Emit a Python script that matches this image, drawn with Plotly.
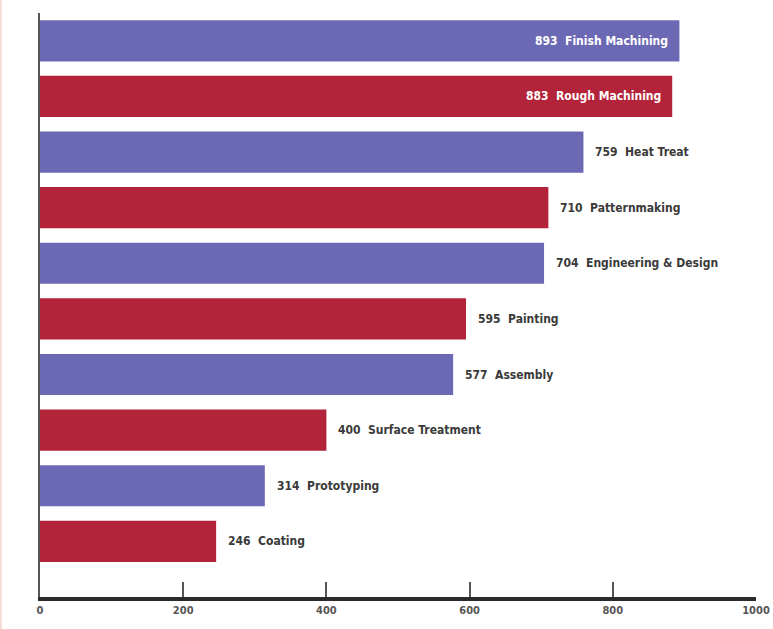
import plotly.graph_objects as go

# Services ranked by count, top to bottom
services = ["Finish Machining", "Rough Machining", "Heat Treat", "Patternmaking",
            "Engineering & Design", "Painting", "Assembly", "Surface Treatment",
            "Prototyping", "Coating"]
counts = [893, 883, 759, 710, 704, 595, 577, 400, 314, 246]
tick_values = [0, 200, 400, 600, 800, 1000]

BLUE = "#6b69b4"
RED = "#b3233a"
colors = [BLUE if i % 2 == 0 else RED for i in range(len(services))]

# Long bars carry their label inside, the rest outside
inside = [c > 850 for c in counts]

W, H = 773, 629
ML, MR, MT, MB = 40, 17, 13, 32
FONT = "DejaVu Sans Condensed, Liberation Sans Narrow, Arial Narrow, sans-serif"

fig = go.Figure(go.Bar(
    x=counts, y=services, orientation="h",
    marker=dict(color=colors, line=dict(width=0)),
    width=0.74, hoverinfo="x+y",
))

for s, c, ins in zip(services, counts, inside):
    fig.add_annotation(
        x=c, y=s, xref="x", yref="y",
        text=f"{c}  {s}", showarrow=False,
        xanchor="right" if ins else "left",
        xshift=-9 if ins else 10,
        font=dict(family=FONT, size=12, color="white" if ins else "#3a3a3a",
                  weight="bold"),
    )

# faint pinkish edge at the left of the page
fig.add_shape(type="line", xref="paper", yref="paper",
              x0=-ML / (W - ML - MR) + 0.001, x1=-ML / (W - ML - MR) + 0.001,
              y0=-MB / (H - MT - MB), y1=1 + MT / (H - MT - MB),
              line=dict(color="#f6d9d4", width=2))

fig.update_layout(
    width=W, height=H,
    margin=dict(l=ML, r=MR, t=MT, b=MB, autoexpand=False),
    paper_bgcolor="white", plot_bgcolor="white",
    showlegend=False, bargap=0.26,
    xaxis=dict(range=[0, 1000], tickvals=tick_values, ticks="inside",
               ticklen=15, tickwidth=2, tickcolor="#555",
               showline=True, linewidth=4, linecolor="#2a2a2a",
               showgrid=False, zeroline=False, automargin=False,
               tickfont=dict(family=FONT, size=11, color="#555", weight="bold")),
    yaxis=dict(categoryorder="array", categoryarray=services,
               range=[10, -0.5], showticklabels=False, ticks="",
               showline=True, linewidth=2, linecolor="#555",
               showgrid=False, zeroline=False, automargin=False),
)

fig.write_html("out.html")
